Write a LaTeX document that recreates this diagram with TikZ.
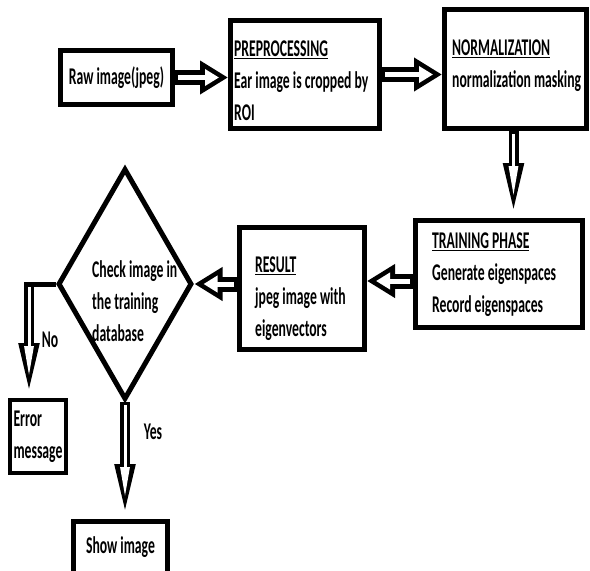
\documentclass[tikz,border=0pt]{standalone}
\usepackage{fontspec}
\setmainfont{Carlito}[FakeStretch=0.57]
\usetikzlibrary{arrows.meta,shapes.geometric}
\begin{document}
\begin{tikzpicture}[x=1pt,y=-1pt,
  every node/.style={font=\bfseries\fontsize{24}{32}\selectfont},
  box/.style={draw,line width=5pt,inner sep=0pt},
  txt/.style={anchor=west,align=left,inner sep=0pt},
  bigarrow/.style={draw=white,line width=5pt,shorten >=9pt,shorten <=3pt,
    -{Triangle[length=14pt,width=16pt]},
    preaction={draw=black,line width=15pt,shorten >=0pt,shorten <=0pt,
      -{Triangle[length=28pt,width=32pt]}}},
  slimarrow/.style={draw=white,line width=3pt,shorten >=22pt,shorten <=3pt,
    -{Triangle[length=30pt,width=9pt]},
    preaction={draw=black,line width=10pt,shorten >=0pt,shorten <=0pt,
      -{Triangle[length=55pt,width=18pt]}}}]
\useasboundingbox (0,0) rectangle (590,571);
\node[box,minimum width=112pt,minimum height=54pt] (raw) at (116.5,77.5) {Raw image(jpeg)};
\node[box,minimum width=149pt,minimum height=108pt] (pre) at (305,74.5) {};
\node[txt] (preT) at (234,81) {\underline{PREPROCESSING}\\Ear image is cropped by\\ROI};
\node[box,minimum width=142pt,minimum height=119pt] (norm) at (515.5,69) {};
\node[txt] (normT) at (452,66) {\underline{NORMALIZATION}\\normalization masking};
\node[box,minimum width=167pt,minimum height=107pt] (train) at (499,274) {};
\node[txt] (trainT) at (432,275) {\underline{TRAINING PHASE}\\Generate eigenspaces\\Record eigenspaces};
\node[box,minimum width=125pt,minimum height=122pt] (res) at (302,288.5) {};
\node[txt] (resT) at (255,299) {\underline{RESULT}\\jpeg image with\\eigenvectors};
\node[draw,diamond,line width=5pt,minimum width=134pt,minimum height=231pt,inner sep=0pt] (dia) at (125,284) {};
\node[txt] (diaT) at (92,301) {Check image in\\the training\\database};
\node[box,line width=4pt,minimum width=56pt,minimum height=73pt,align=left] (err) at (38,436.5) {Error\\message};
\node[box,minimum width=94pt,minimum height=52pt] (show) at (120.5,547.5) {Show image};
\coordinate (nocorner) at (29,284);
\draw[bigarrow] (raw.east) -- (raw.east -| pre.west);
\draw[bigarrow] (pre.east) -- (pre.east -| norm.west);
\draw[slimarrow] ([xshift=-2pt]norm.south) -- ([xshift=-2pt]norm.south |- train.north);
\draw[bigarrow] ([yshift=-7pt]train.west) -- ([yshift=-7pt]train.west -| res.east);
\draw[bigarrow] (res.west |- dia.east) -- (dia.east);
\draw[line width=5pt] (dia.west) -- ([xshift=-5pt]nocorner);
\draw[slimarrow] (nocorner) -- (nocorner |- err.north);
\draw[slimarrow] (dia.south) -- (dia.south |- show.north);
\node (no) at (50,340) {No};
\node (yes) at (153,432) {Yes};
\end{tikzpicture}
\end{document}
